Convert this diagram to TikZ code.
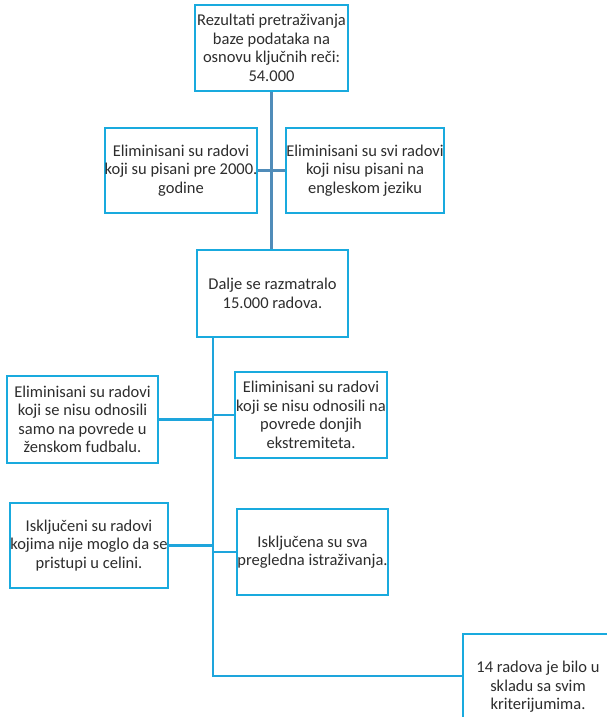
\documentclass[tikz,border=0pt]{standalone}
\usepackage{fontspec}
\setmainfont{Carlito}
\definecolor{boxblue}{RGB}{25,170,222}
\definecolor{steel}{RGB}{80,140,185}
\definecolor{linkblue}{RGB}{30,165,220}
\definecolor{txt}{RGB}{45,45,45}
\begin{document}
\begin{tikzpicture}[x=1pt,y=-1pt,
  box/.style={draw=boxblue, line width=2pt, fill=white, align=center, text=txt,
    font=\fontsize{16.5}{18.5}\selectfont, inner sep=0pt},
  upper/.style={draw=steel, line width=3pt},
  lower/.style={draw=linkblue, line width=2.2pt}]
\clip (0,0) rectangle (607,717);
\fill[white] (0,0) rectangle (607,717);
\node[box, minimum width=153pt, minimum height=86pt] (A) at (271.5,48)
  {Rezultati pretraživanja\\baze podataka na\\osnovu ključnih reči:\\54.000};
\node[box, minimum width=152pt, minimum height=85pt] (B) at (181,170.5)
  {Eliminisani su radovi\\koji su pisani pre 2000.\\godine};
\node[box, minimum width=152pt, minimum height=85pt] (C) at (365,170.5)
  {Eliminisani su svi radovi\\koji nisu pisani na\\engleskom jeziku};
\node[box, minimum width=151pt, minimum height=87pt] (D) at (272.5,293.5)
  {Dalje se razmatralo\\15.000 radova.};
\node[box, minimum width=151pt, minimum height=87pt] (E) at (82.5,419.5)
  {Eliminisani su radovi\\koji se nisu odnosili\\samo na povrede u\\ženskom fudbalu.};
\node[box, minimum width=152pt, minimum height=86pt] (F) at (311,415)
  {Eliminisani su radovi\\koji se nisu odnosili na\\povrede donjih\\ekstremiteta.};
\node[box, minimum width=152pt, minimum height=85pt] (G) at (89,545.5)
  {Isključeni su radovi\\kojima nije moglo da se\\pristupi u celini.};
\node[box, minimum width=151pt, minimum height=86pt] (H) at (312.5,552)
  {Isključena su sva\\pregledna istraživanja.};
\node[box, minimum width=150pt, minimum height=106pt] (I) at (538,687)
  {14 radova je bilo u\\skladu sa svim\\kriterijumima.};
\coordinate (tb) at (213,676);
\draw[upper] (A.south) -- (A.south |- D.north);
\draw[upper] (B.east) -- (C.west);
\draw[lower] (D.south -| tb) -- (tb) -- (tb -| I.west);
\draw[lower] (E.east) -- (E.east -| tb);
\draw[lower] (F.west) -- (F.west -| tb);
\draw[lower] (G.east) -- (G.east -| tb);
\draw[lower] (H.west) -- (H.west -| tb);
\end{tikzpicture}
\end{document}
